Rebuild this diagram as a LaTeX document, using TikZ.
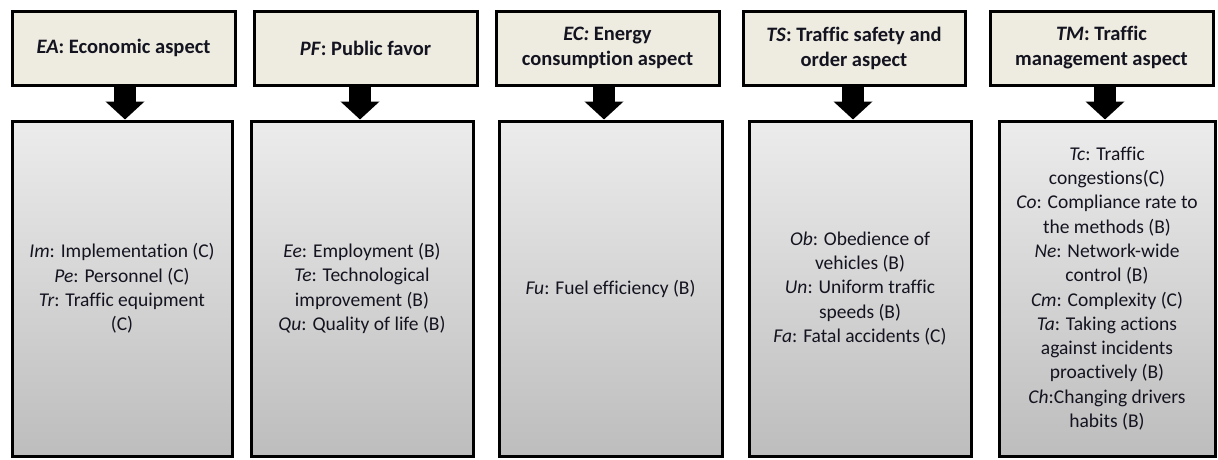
\documentclass[tikz,border=0pt]{standalone}
\usepackage{fontspec}
\setmainfont{Carlito}[Ligatures={NoCommon,NoRare,NoContextual}]
\usetikzlibrary{arrows.meta,shadows}
\definecolor{hdrfill}{HTML}{EEECE1}
\definecolor{boxtop}{HTML}{ECECEC}
\definecolor{boxbot}{HTML}{BDBDBD}
\definecolor{txt}{HTML}{141420}
\tikzset{
  hdr/.style={draw=black, line width=3pt, fill=hdrfill, align=center, text=txt,
    minimum height=74pt, inner sep=0pt,
    font=\fontsize{20.5}{25}\selectfont\bfseries,
    drop shadow={opacity=0.25, shadow xshift=1.5pt, shadow yshift=-1.5pt}},
  body/.style={draw=black, line width=3pt, top color=boxtop, bottom color=boxbot,
    align=center, text=txt, minimum height=335pt, inner sep=0pt,
    font=\fontsize{19.5}{24.3}\selectfont,
    drop shadow={opacity=0.25, shadow xshift=1.5pt, shadow yshift=-1.5pt}},
  bigarrow/.style={line width=22pt, draw=black,
    -{Triangle[width=38pt,length=18pt]}}
}
\begin{document}
\begin{tikzpicture}[x=1pt,y=-1pt]
\useasboundingbox (0,0) rectangle (1218,459);
% headers
\node[hdr, minimum width=223pt] (h1) at (123.5,48) {\textit{EA}: Economic aspect};
\node[hdr, minimum width=223pt] (h2) at (365.5,48) {\textit{PF}: Public favor};
\node[hdr, minimum width=223pt] (h3) at (607.5,48) {\textit{EC:} Energy\\consumption aspect};
\node[hdr, minimum width=222pt] (h4) at (854,48) {\textit{TS}: Traffic safety and\\order aspect};
\node[hdr, minimum width=223pt] (h5) at (1101.5,48) {\textit{TM}: Traffic\\management aspect};
% bodies
\node[body, minimum width=220pt] (b1) at (122,288.5)
  {\textit{Im}: Implementation (C)\\\textit{Pe}: Personnel (C)\\\textit{Tr}: Traffic equipment\\(C)};
\node[body, minimum width=222pt] (b2) at (362,288.5)
  {\textit{Ee}: Employment (B)\\\textit{Te}: Technological\\improvement (B)\\\textit{Qu}: Quality of life (B)};
\node[body, minimum width=223pt] (b3) at (610.5,288.5)
  {\textit{Fu}: Fuel efficiency (B)};
\node[body, minimum width=222pt] (b4) at (860,288.5)
  {\textit{Ob}: Obedience of\\vehicles (B)\\\textit{Un}: Uniform traffic\\speeds (B)\\\textit{Fa}: Fatal accidents (C)};
\node[body, minimum width=216pt] (b5) at (1107,288.5)
  {\textit{Tc}: Traffic\\congestions(C)\\\textit{Co}: Compliance rate to\\the methods (B)\\\textit{Ne}: Network-wide\\control (B)\\\textit{Cm}: Complexity (C)\\\textit{Ta}: Taking actions\\against incidents\\proactively (B)\\\textit{Ch}:Changing drivers\\habits (B)};
% arrows
\coordinate (a1) at ([xshift=1.5pt]h1.south);
\coordinate (a2) at ([xshift=-5.5pt]h2.south);
\coordinate (a3) at ([xshift=-3.5pt]h3.south);
\coordinate (a4) at ([xshift=-1pt]h4.south);
\coordinate (a5) at ([xshift=3.5pt]h5.south);
\draw[bigarrow] (a1) -- (a1 |- b1.north);
\draw[bigarrow] (a2) -- (a2 |- b2.north);
\draw[bigarrow] (a3) -- (a3 |- b3.north);
\draw[bigarrow] (a4) -- (a4 |- b4.north);
\draw[bigarrow] (a5) -- (a5 |- b5.north);
\end{tikzpicture}
\end{document}
